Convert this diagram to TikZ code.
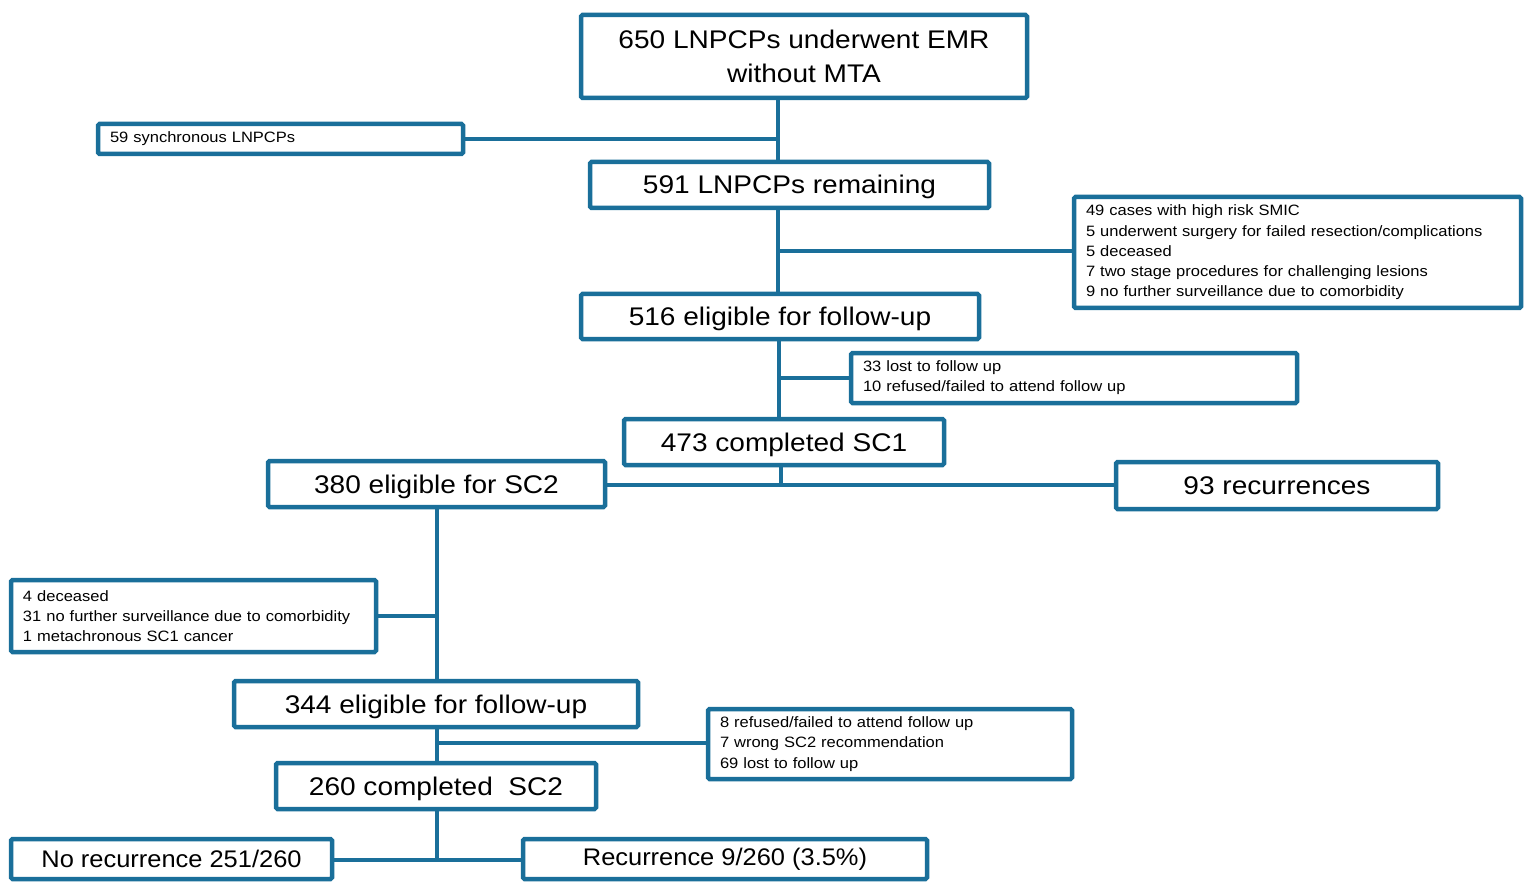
\documentclass[tikz,border=0pt]{standalone}
\usepackage{fontspec}
\setmainfont[FakeStretch=1.1]{Liberation Sans}
\newfontfamily\bottomfont[FakeStretch=1.06]{Liberation Sans}
\definecolor{boxblue}{HTML}{1A6F9A}
\begin{document}
\begin{tikzpicture}[x=1pt,y=-1pt,
  box/.style={draw=boxblue,line width=4.5pt,rounded corners=1.5pt,fill=white,inner sep=0pt,align=center,font=\fontsize{25.5}{34}\selectfont},
  onebox/.style={box,text height=20pt,text depth=2pt},
  listbox/.style={draw=boxblue,line width=4.5pt,rounded corners=1.5pt,fill=white,inner xsep=12pt,inner ysep=0pt,align=left,font=\fontsize{15}{20.2}\selectfont},
  link/.style={draw=boxblue,line width=4pt}]
\useasboundingbox (0,0) rectangle (1530,882);
% main boxes
\node[box,minimum width=446,minimum height=83] (n650) at (804,56.5) {650 LNPCPs underwent EMR\\without MTA};
\node[listbox,minimum width=365,minimum height=30,text width=341] (n59) at (280.5,139) {59 synchronous LNPCPs};
\node[onebox,minimum width=399,minimum height=46] (n591) at (789.5,185) {591 LNPCPs remaining};
\node[listbox,minimum width=447,minimum height=111,text width=423] (nex1) at (1297.5,252.5) {49 cases with high risk SMIC\\5 underwent surgery for failed resection/complications\\5 deceased\\7 two stage procedures for challenging lesions\\9 no further surveillance due to comorbidity};
\node[onebox,minimum width=398,minimum height=45] (n516) at (780,316.5) {516 eligible for follow-up};
\node[listbox,minimum width=446,minimum height=50,text width=422] (nex2) at (1074,378) {33 lost to follow up\\10 refused/failed to attend follow up};
\node[onebox,minimum width=320,minimum height=46] (n473) at (784,442) {473 completed SC1};
\node[onebox,minimum width=337,minimum height=46] (n380) at (436.5,484) {380 eligible for SC2};
\node[onebox,minimum width=322,minimum height=47] (n93) at (1277,485.5) {93 recurrences};
\node[listbox,minimum width=365,minimum height=72,text width=341] (nex3) at (193.5,616) {4 deceased\\31 no further surveillance due to comorbidity\\1 metachronous SC1 cancer};
\node[onebox,minimum width=404,minimum height=46] (n344) at (436,704) {344 eligible for follow-up};
\node[listbox,minimum width=364,minimum height=70,text width=340] (nex4) at (890,744) {8 refused/failed to attend follow up\\7 wrong SC2 recommendation\\69 lost to follow up};
\node[onebox,minimum width=320,minimum height=46] (n260) at (436,786) {260 completed\ \ SC2};
\node[box,minimum width=321,minimum height=40,font=\bottomfont\fontsize{24}{28}\selectfont] (nno) at (171.5,859) {No recurrence 251/260};
\node[box,minimum width=404,minimum height=40,font=\bottomfont\fontsize{24}{28}\selectfont] (nrec) at (725,859) {Recurrence 9/260 (3.5\%)};
% junctions
\coordinate (j1) at (778,139);
\coordinate (j2) at (778,251);
\coordinate (j3) at (779,378);
\coordinate (j4) at (781,485);
\coordinate (j5) at (437,616);
\coordinate (j6) at (437,743);
\coordinate (j7) at (437,860);
% connectors
\path[link] (j1 |- n650.south) -- (j1 |- n591.north);
\path[link] (n59.east) -- (j1);
\path[link] (j2 |- n591.south) -- (j2 |- n516.north);
\path[link] (j2) -- (nex1.west |- j2);
\path[link] (j3 |- n516.south) -- (j3 |- n473.north);
\path[link] (j3) -- (nex2.west);
\path[link] (j4 |- n473.south) -- (j4);
\path[link] (n380.east |- j4) -- (n93.west |- j4);
\path[link] (j5 |- n380.south) -- (j5 |- n344.north);
\path[link] (nex3.east |- j5) -- (j5);
\path[link] (j6 |- n344.south) -- (j6 |- n260.north);
\path[link] (j6) -- (nex4.west |- j6);
\path[link] (j7 |- n260.south) -- (j7);
\path[link] (nno.east |- j7) -- (nrec.west |- j7);
\end{tikzpicture}
\end{document}
